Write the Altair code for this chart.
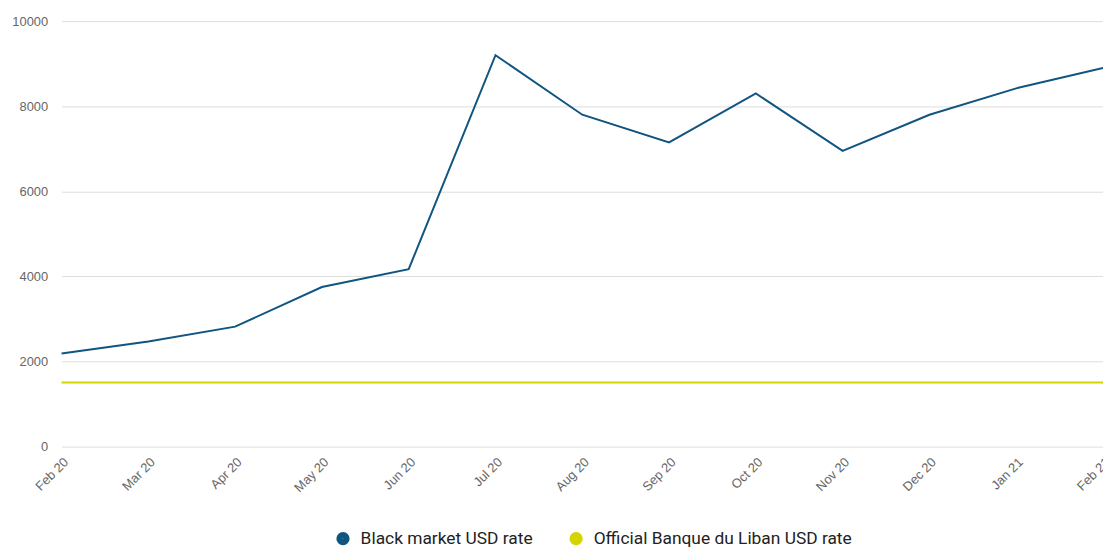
import altair as alt
import pandas as pd

months = ["Feb 20", "Mar 20", "Apr 20", "May 20", "Jun 20", "Jul 20", "Aug 20",
          "Sep 20", "Oct 20", "Nov 20", "Dec 20", "Jan 21", "Feb 21"]
black_market = [2190, 2470, 2820, 3750, 4170, 9200, 7800, 7150, 8300, 6950, 7800, 8420, 8900]
official = [1507.5] * len(months)

series_names = ["Black market USD rate", "Official Banque du Liban USD rate"]
colors = ["#0f5580", "#d4d400"]

rows = []
for m, b, o in zip(months, black_market, official):
    rows.append({"month": m, "series": series_names[0], "value": b})
    rows.append({"month": m, "series": series_names[1], "value": o})
df = pd.DataFrame(rows)

chart = alt.Chart(df).mark_line(strokeWidth=2).encode(
    x=alt.X("month:N", sort=months, scale=alt.Scale(padding=0),
            axis=alt.Axis(title=None, labelAngle=-45, domain=False, ticks=False,
                          labelFontSize=13, labelColor="#666666", labelFont="Liberation Sans",
                          labelPadding=9, grid=False)),
    y=alt.Y("value:Q", scale=alt.Scale(domain=[0, 10000], nice=False),
            axis=alt.Axis(title=None, values=[0, 2000, 4000, 6000, 8000, 10000], format="d",
                          domain=False, ticks=False, labelFontSize=13, labelColor="#666666",
                          labelFont="Liberation Sans", labelPadding=14,
                          gridColor="#dddddd")),
    color=alt.Color("series:N", scale=alt.Scale(domain=series_names, range=colors),
                    legend=alt.Legend(title=None, orient="none", direction="horizontal",
                                      legendX=275, legendY=513,
                                      symbolType="circle",
                                      symbolSize=40, symbolStrokeWidth=7,
                                      labelFont="Roboto",
                                      labelFontSize=17.5, labelColor="#222222",
                                      labelOffset=9,
                                      columnPadding=25, labelLimit=400)),
).properties(
    width=1050, height=429,
    padding={"left": 54, "top": 11, "right": 0, "bottom": 99},
    autosize=alt.AutoSizeParams(type="none"),
).configure_view(stroke=None)

chart.save("out.html", embed_options={"renderer": "svg", "actions": False})
